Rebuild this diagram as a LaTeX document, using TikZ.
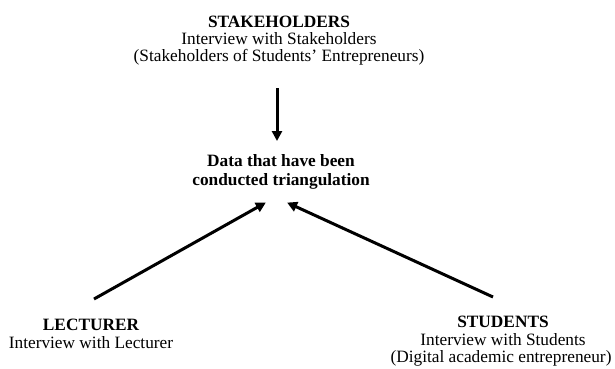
\documentclass[tikz,border=0pt]{standalone}
\usepackage{fontspec}
\setmainfont{Liberation Serif}
\usetikzlibrary{arrows.meta}
\tikzset{
  txt/.style={anchor=base, inner sep=0pt, font=\fontsize{17.3}{17}\selectfont},
  ttl/.style={txt, font=\fontsize{17.3}{17}\selectfont\bfseries},
  conn/.style={line width=3pt, -{Triangle[length=10pt,width=10pt]}, shorten >=-1pt}
}
\begin{document}
\begin{tikzpicture}[x=1pt,y=-1pt]
\useasboundingbox (0,0) rectangle (615,368);
% top block
\node[ttl] (stk) at (279,27) {STAKEHOLDERS};
\node[txt] (stk2) at (279,44) {Interview with Stakeholders};
\node[txt] (stk3) at (279,61) {(Stakeholders of Students’ Entrepreneurs)};
% center block
\node[ttl] (dat) at (281,166) {Data that have been};
\node[ttl] (dat2) at (281,185) {conducted triangulation};
% lecturer
\node[ttl] (lec) at (91,330) {LECTURER};
\node[txt] (lec2) at (91,348) {Interview with Lecturer};
% students
\node[ttl] (stu) at (503,327) {STUDENTS};
\node[txt] (stu2) at (503,345) {Interview with Students};
\node[txt] (stu3) at (501,362) {(Digital academic entrepreneur)};
% connector ends
\coordinate (topS) at (277,88);
\coordinate (topE) at (277,140);
\coordinate (lecS) at (94,299);
\coordinate (lecE) at (265,203);
\coordinate (stuS) at (493,297);
\coordinate (stuE) at (288,203);
\draw[conn] (topS) -- (topE);
\draw[conn] (lecS) -- (lecE);
\draw[conn] (stuS) -- (stuE);
\end{tikzpicture}
\end{document}
